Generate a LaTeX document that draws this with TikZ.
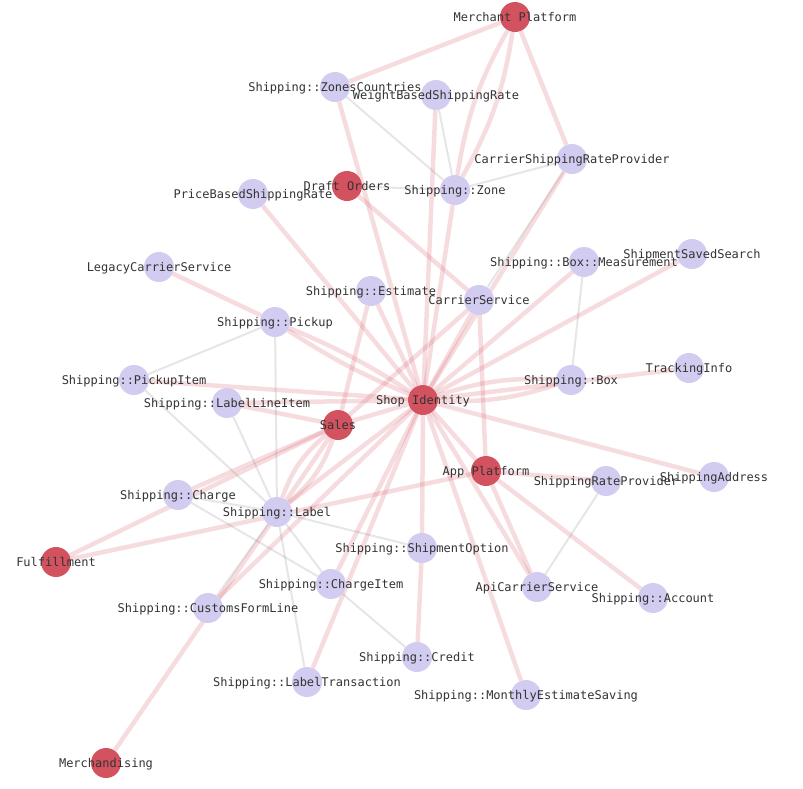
\documentclass[tikz,border=0pt]{standalone}
\usepackage{fontspec}
\newfontfamily\lblfont{DejaVu Sans Mono}
\definecolor{redc}{RGB}{210,82,96}
\definecolor{purc}{RGB}{209,204,240}
\definecolor{txtc}{RGB}{51,51,51}
\definecolor{grayc}{RGB}{140,140,140}
\pgfdeclarelayer{edges}
\pgfsetlayers{edges,main}
\tikzset{
  rednode/.style={circle, fill=redc, minimum size=30pt, inner sep=0pt, draw=none},
  purnode/.style={circle, fill=purc, minimum size=30pt, inner sep=0pt, draw=none},
  lbl/.style={font=\lblfont\fontsize{12}{14}\selectfont, text=txtc, anchor=base, inner sep=0pt},
  pinkedge/.style={draw=redc, draw opacity=0.2, line width=4.5pt},
  grayedge/.style={draw=grayc, draw opacity=0.22, line width=2pt},
}
\begin{document}
\begin{tikzpicture}[x=1pt,y=-1pt]
\useasboundingbox (0,0) rectangle (803,788);
% red nodes
\node[rednode] (mp) at (515,17) {};
\node[rednode] (dor) at (347,186) {};
\node[rednode] (si) at (423,400) {};
\node[rednode] (sal) at (338,425) {};
\node[rednode] (ap) at (486,471) {};
\node[rednode] (ful) at (56,562) {};
\node[rednode] (mer) at (106,763) {};
% purple nodes
\node[purnode] (zc) at (335,87) {};
\node[purnode] (wb) at (436,95) {};
\node[purnode] (csrp) at (572,159) {};
\node[purnode] (zone) at (455,190) {};
\node[purnode] (pb) at (253,194) {};
\node[purnode] (sss) at (692,254) {};
\node[purnode] (bm) at (584,262) {};
\node[purnode] (lcs) at (159,267) {};
\node[purnode] (est) at (371,291) {};
\node[purnode] (cs) at (479,300) {};
\node[purnode] (pk) at (275,322) {};
\node[purnode] (ti) at (689,368) {};
\node[purnode] (pki) at (134,380) {};
\node[purnode] (box) at (571,380) {};
\node[purnode] (lli) at (227,403) {};
\node[purnode] (chg) at (178,495) {};
\node[purnode] (srp) at (606,481) {};
\node[purnode] (sa) at (714,477) {};
\node[purnode] (lab) at (277,512) {};
\node[purnode] (so) at (422,548) {};
\node[purnode] (ci) at (331,584) {};
\node[purnode] (acs) at (537,587) {};
\node[purnode] (cfl) at (208,608) {};
\node[purnode] (acc) at (653,598) {};
\node[purnode] (cr) at (417,657) {};
\node[purnode] (lt) at (307,682) {};
\node[purnode] (mes) at (526,695) {};
% labels
\node[lbl] (mp-l) at ([yshift=-4.3pt]mp.center) {Merchant Platform};
\node[lbl] (dor-l) at ([yshift=-4.3pt]dor.center) {Draft Orders};
\node[lbl] (si-l) at ([yshift=-4.3pt]si.center) {Shop Identity};
\node[lbl] (sal-l) at ([yshift=-4.3pt]sal.center) {Sales};
\node[lbl] (ap-l) at ([yshift=-4.3pt]ap.center) {App Platform};
\node[lbl] (ful-l) at ([yshift=-4.3pt]ful.center) {Fulfillment};
\node[lbl] (mer-l) at ([yshift=-4.3pt]mer.center) {Merchandising};
\node[lbl] (zc-l) at ([yshift=-4.3pt]zc.center) {Shipping::ZonesCountries};
\node[lbl] (wb-l) at ([yshift=-4.3pt]wb.center) {WeightBasedShippingRate};
\node[lbl] (csrp-l) at ([yshift=-4.3pt]csrp.center) {CarrierShippingRateProvider};
\node[lbl] (zone-l) at ([yshift=-4.3pt]zone.center) {Shipping::Zone};
\node[lbl] (pb-l) at ([yshift=-4.3pt]pb.center) {PriceBasedShippingRate};
\node[lbl] (sss-l) at ([yshift=-4.3pt]sss.center) {ShipmentSavedSearch};
\node[lbl] (bm-l) at ([yshift=-4.3pt]bm.center) {Shipping::Box::Measurement};
\node[lbl] (lcs-l) at ([yshift=-4.3pt]lcs.center) {LegacyCarrierService};
\node[lbl] (est-l) at ([yshift=-4.3pt]est.center) {Shipping::Estimate};
\node[lbl] (cs-l) at ([yshift=-4.3pt]cs.center) {CarrierService};
\node[lbl] (pk-l) at ([yshift=-4.3pt]pk.center) {Shipping::Pickup};
\node[lbl] (ti-l) at ([yshift=-4.3pt]ti.center) {TrackingInfo};
\node[lbl] (pki-l) at ([yshift=-4.3pt]pki.center) {Shipping::PickupItem};
\node[lbl] (box-l) at ([yshift=-4.3pt]box.center) {Shipping::Box};
\node[lbl] (lli-l) at ([yshift=-4.3pt]lli.center) {Shipping::LabelLineItem};
\node[lbl] (chg-l) at ([yshift=-4.3pt]chg.center) {Shipping::Charge};
\node[lbl] (srp-l) at ([yshift=-4.3pt]srp.center) {ShippingRateProvider};
\node[lbl] (sa-l) at ([yshift=-4.3pt]sa.center) {ShippingAddress};
\node[lbl] (lab-l) at ([yshift=-4.3pt]lab.center) {Shipping::Label};
\node[lbl] (so-l) at ([yshift=-4.3pt]so.center) {Shipping::ShipmentOption};
\node[lbl] (ci-l) at ([yshift=-4.3pt]ci.center) {Shipping::ChargeItem};
\node[lbl] (acs-l) at ([yshift=-4.3pt]acs.center) {ApiCarrierService};
\node[lbl] (cfl-l) at ([yshift=-4.3pt]cfl.center) {Shipping::CustomsFormLine};
\node[lbl] (acc-l) at ([yshift=-4.3pt]acc.center) {Shipping::Account};
\node[lbl] (cr-l) at ([yshift=-4.3pt]cr.center) {Shipping::Credit};
\node[lbl] (lt-l) at ([yshift=-4.3pt]lt.center) {Shipping::LabelTransaction};
\node[lbl] (mes-l) at ([yshift=-4.3pt]mes.center) {Shipping::MonthlyEstimateSaving};
\begin{pgfonlayer}{edges}
% grey edges
\draw[grayedge] (dor) -- (zone);
\draw[grayedge] (zc) -- (zone);
\draw[grayedge] (wb) -- (zone);
\draw[grayedge] (csrp) -- (zone);
\draw[grayedge] (csrp) -- (cs);
\draw[grayedge] (bm) -- (box);
\draw[grayedge] (pk) -- (pki);
\draw[grayedge] (pk) -- (lab);
\draw[grayedge] (pki) -- (lab);
\draw[grayedge] (lli) -- (lab);
\draw[grayedge] (chg) -- (lab);
\draw[grayedge] (chg) -- (ci);
\draw[grayedge] (lab) -- (ci);
\draw[grayedge] (ci) -- (cr);
\draw[grayedge] (lab) -- (so);
\draw[grayedge] (lab) -- (lt);
\draw[grayedge] (cfl) -- (lab);
\draw[grayedge] (srp) -- (acs);
% pink edges
\draw[pinkedge] (mp) -- (zc);
\draw[pinkedge] (mp) to[bend left=10] (zone);
\draw[pinkedge] (mp) to[bend right=10] (zone);
\draw[pinkedge] (mp) -- (csrp);
\draw[pinkedge] (zc) -- (si);
\draw[pinkedge] (wb) -- (si);
\draw[pinkedge] (zone) -- (si);
\draw[pinkedge] (pb) -- (si);
\draw[pinkedge] (dor) -- (cs);
\draw[pinkedge] (csrp) -- (si);
\draw[pinkedge] (cs) -- (si);
\draw[pinkedge] (cs) -- (ap);
\draw[pinkedge] (cs) -- (sal);
\draw[pinkedge] (lcs) -- (pk);
\draw[pinkedge] (pk) to[bend left=5] (si);
\draw[pinkedge] (pk) to[bend right=5] (si);
\draw[pinkedge] (pki) -- (si);
\draw[pinkedge] (lli) -- (si);
\draw[pinkedge] (lli) -- (sal);
\draw[pinkedge] (est) -- (sal);
\draw[pinkedge] (est) -- (si);
\draw[pinkedge] (sal) -- (si);
\draw[pinkedge] (bm) -- (si);
\draw[pinkedge] (sss) -- (si);
\draw[pinkedge] (box) to[bend left=10] (si);
\draw[pinkedge] (box) to[bend right=10] (si);
\draw[pinkedge] (ti) -- (si);
\draw[pinkedge] (sa) -- (si);
\draw[pinkedge] (si) -- (ap);
\draw[pinkedge] (ap) -- (srp);
\draw[pinkedge] (ap) -- (acc);
\draw[pinkedge] (ap) -- (acs);
\draw[pinkedge] (si) -- (acs);
\draw[pinkedge] (si) -- (so);
\draw[pinkedge] (so) -- (cr);
\draw[pinkedge] (si) -- (mes);
\draw[pinkedge] (ful) -- (ap);
\draw[pinkedge] (ful) -- (sal);
\draw[pinkedge] (chg) -- (sal);
\draw[pinkedge] (mer) -- (sal);
\draw[pinkedge] (lab) to[bend left=15] (sal);
\draw[pinkedge] (lab) to[bend right=15] (sal);
\draw[pinkedge] (lab) -- (si);
\draw[pinkedge] (cfl) -- (si);
\draw[pinkedge] (si) -- (ci);
\draw[pinkedge] (si) -- (lt);
\end{pgfonlayer}
\end{tikzpicture}
\end{document}
